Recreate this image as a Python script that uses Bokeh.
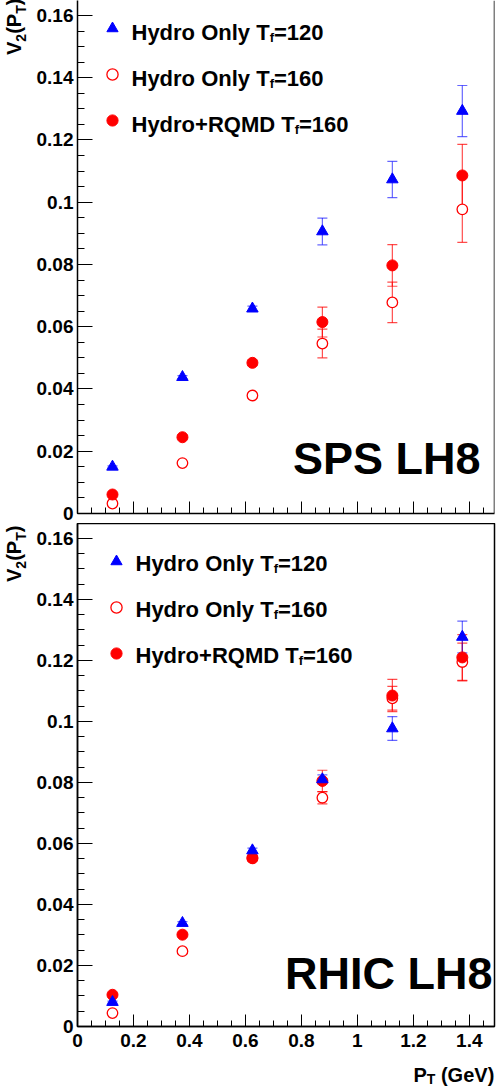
import numpy as np
from bokeh.plotting import figure
from bokeh.models import (ColumnDataSource, Whisker, TeeHead, Label, Legend, LegendItem,
                          SingleIntervalTicker, CustomJSTickFormatter, Range1d, Span, Div)
from bokeh.layouts import column, row
from bokeh.embed import file_html
from bokeh.resources import INLINE

# ---------------- data ----------------
pt = [0.125, 0.375, 0.625, 0.875, 1.125, 1.375]

sps_h120 = [0.0150, 0.0438, 0.0658, 0.0906, 0.1073, 0.1293]
sps_h120_err = [0.0003, 0.0005, 0.0008, 0.0043, 0.0058, 0.0082]
sps_h160 = [0.0032, 0.0162, 0.0379, 0.0546, 0.0678, 0.0977]
sps_h160_err = [0.0003, 0.0005, 0.0008, 0.0046, 0.0065, 0.0106]
sps_rqmd = [0.0061, 0.0245, 0.0484, 0.0615, 0.0797, 0.1086]
sps_rqmd_err = [0.0003, 0.0006, 0.0009, 0.0048, 0.0067, 0.0100]

rhic_h120 = [0.0080, 0.0339, 0.0577, 0.0810, 0.0977, 0.1277]
rhic_h120_err = [0.0003, 0.0005, 0.0008, 0.0015, 0.0039, 0.0052]
rhic_h160 = [0.0044, 0.0247, 0.0551, 0.0750, 0.1076, 0.1195]
rhic_h160_err = [0.0003, 0.0005, 0.0008, 0.0020, 0.0039, 0.0062]
rhic_rqmd = [0.0104, 0.0301, 0.0553, 0.0805, 0.1085, 0.1210]
rhic_rqmd_err = [0.0003, 0.0005, 0.0008, 0.0035, 0.0053, 0.0075]

panel_labels = ["SPS LH8", "RHIC LH8"]
legend_rows = [
    [("Hydro Only T", 0), ("f", 1), ("=120", 0)],
    [("Hydro Only T", 0), ("f", 1), ("=160", 0)],
    [("Hydro+RQMD T", 0), ("f", 1), ("=160", 0)],
]
ytitle = [("V", 0), ("2", 1), ("(P", 0), ("T", 1), (")", 0)]
xtitle = [("P", 0), ("T", 1), (" (GeV)", 0)]

# ---------------- layout (page pixels, page has no margin) ----------------
FONT = "Liberation Sans"
TW = 30                      # width of the y-title strip
PW = 468                     # width of each plot
BL, BR = 47, 4               # plot borders -> frame x from 77 to 494
FRAME_L = TW + BL
X_END = 1.49
SX = (PW - BL - BR) / X_END

H1, B1_BOT = 523, 10
F1H = H1 - B1_BOT            # frame 0..513
Y1_END = 0.1648
H2, B2_BOT = 537, 34
F2H = H2 - B2_BOT            # frame 523..1026
Y2_END = 0.1649
HX = 1086 - H1 - H2          # strip holding the x title
F1_BOTTOM = F1H
F2_TOP = H1
F2_BOTTOM = H1 + F2H
XT_TOP = H1 + H2

W = {' ': 278, '(': 333, ')': 333, '+': 584, '=': 584, '.': 278,
     '0': 556, '1': 556, '2': 556, '6': 556, '8': 556,
     'C': 722, 'D': 722, 'G': 778, 'H': 722, 'I': 278, 'L': 611, 'M': 833,
     'O': 778, 'P': 667, 'Q': 778, 'R': 722, 'S': 667, 'T': 611, 'V': 667,
     'd': 611, 'e': 556, 'f': 333, 'l': 278, 'n': 611, 'o': 611, 'r': 389,
     'v': 556, 'y': 556}


def tw(s, size):
    return sum(W.get(c, 556) for c in s) / 1000.0 * size


def xd(px):
    return (px - FRAME_L) / SX


def yd1(py):
    return (F1_BOTTOM - py) / (F1H / Y1_END)


def yd2(py):
    return (F2_BOTTOM - py) / (F2H / Y2_END)


def rich(p, fx, fy, x_px, y_px, pieces, size, sub_size, sub_shift):
    pos = x_px
    for text, is_sub in pieces:
        s = sub_size if is_sub else size
        sh = sub_shift if is_sub else 0
        stripped = text.lstrip(" ")
        pos += tw(text[:len(text) - len(stripped)], s)
        p.add_layout(Label(x=fx(pos), y=fy(y_px + sh), text=stripped, text_font=FONT,
                           text_font_style="bold", text_font_size=f"{s}px",
                           text_color="black", text_baseline="alphabetic",
                           text_align="left"))
        pos += tw(stripped, s)


def vertical_title(width, height, left, start, pieces, size, sub_size, sub_shift):
    parts = []
    for text, is_sub in pieces:
        if is_sub:
            parts.append(f'<span style="font-size:{sub_size}px;position:relative;top:{sub_shift}px;">{text}</span>')
        else:
            parts.append(text)
    html = (f'<div style="position:absolute;left:{left}px;top:{start}px;'
            f'transform-origin:0 0;transform:rotate(-90deg);'
            f"font-family:'{FONT}';font-weight:bold;font-size:{size}px;"
            f'line-height:1;white-space:nowrap;color:black;">' + "".join(parts) + '</div>')
    return Div(text=html, width=width, height=height, margin=0,
               styles={"overflow": "visible", "position": "relative"})


fmt = CustomJSTickFormatter(code="return parseFloat(tick.toFixed(3)).toString();")


def strip(w, h):
    f = figure(width=w, height=h, x_range=Range1d(0, w), y_range=Range1d(h, 0),
               x_axis_type=None, y_axis_type=None, output_backend="svg",
               toolbar_location=None, title=None, min_border=0)
    f.outline_line_color = None
    f.background_fill_color = "white"
    f.border_fill_color = "white"
    return f


def make_panel(height, bbot, yend, show_xlabels):
    p = figure(width=PW, height=height, x_range=Range1d(0, X_END),
               y_range=Range1d(0, yend), output_backend="svg",
               toolbar_location=None, title=None,
               min_border_left=BL, min_border_right=BR, min_border_top=0,
               min_border_bottom=bbot)
    p.xgrid.visible = False
    p.ygrid.visible = False
    p.background_fill_color = "white"
    p.border_fill_color = "white"
    p.xaxis.ticker = SingleIntervalTicker(interval=0.2, num_minor_ticks=4)
    p.yaxis.ticker = SingleIntervalTicker(interval=0.02, num_minor_ticks=4)
    for ax in (p.xaxis, p.yaxis):
        ax.axis_line_color = "black"
        ax.axis_line_width = 1.5
        ax.major_tick_line_color = "black"
        ax.minor_tick_line_color = "black"
        ax.major_tick_out = 0
        ax.minor_tick_out = 0
        ax.formatter = fmt
        ax.major_label_text_font = FONT
        ax.major_label_text_font_style = "bold"
        ax.major_label_text_color = "black"
        ax.major_label_text_font_size = "19px"
    p.yaxis.major_tick_in = 15
    p.yaxis.minor_tick_in = 7
    p.yaxis.major_label_standoff = 4
    p.xaxis.major_tick_in = 12
    p.xaxis.minor_tick_in = 6
    if show_xlabels:
        p.xaxis.major_label_standoff = 7
    else:
        p.xaxis.major_label_standoff = 0
        p.xaxis.major_label_text_font_size = "1px"
        p.xaxis.major_label_text_alpha = 0
    p.outline_line_color = "black"
    p.outline_line_width = 1.5
    return p


def add_series(p, h120, e120, h160, e160, rq, erq):
    def whisk(vals, errs, color, alpha):
        v = np.array(vals)
        e = np.array(errs)
        src = ColumnDataSource(dict(x=pt, lo=v - e, hi=v + e))
        p.add_layout(Whisker(source=src, base="x", lower="lo", upper="hi",
                             line_color=color, line_alpha=alpha, line_width=1.2,
                             upper_head=TeeHead(size=10, line_color=color, line_alpha=alpha, line_width=1.2),
                             lower_head=TeeHead(size=10, line_color=color, line_alpha=alpha, line_width=1.2)))
    whisk(h160, e160, "#ff0000", 0.7)
    whisk(rq, erq, "#ff0000", 0.7)
    whisk(h120, e120, "#0000ff", 0.6)
    r_open = p.scatter(pt, h160, marker="circle", size=10.5, fill_color="white",
                       line_color="#ff0000", line_width=1.3)
    r_fill = p.scatter(pt, rq, marker="circle", size=11, fill_color="#ff0000",
                       line_color="#ff0000")
    r_tri = p.scatter(pt, h120, marker="triangle", size=11.5, fill_color="#0000ff",
                      line_color="#0000ff")
    return r_tri, r_open, r_fill


def add_legend(p, rends, loc):
    items = [LegendItem(label=" ", renderers=[r]) for r in rends]
    lg = Legend(items=items, location=loc, orientation="vertical", padding=0,
                margin=0, spacing=6, glyph_width=28, glyph_height=40,
                label_height=40, label_width=1, label_standoff=0,
                label_text_font_size="1px", border_line_color=None,
                background_fill_alpha=0)
    p.add_layout(lg)


# ---------------- top panel (SPS) ----------------
p1 = make_panel(H1, B1_BOT, Y1_END, False)
p1.outline_line_color = None
p1.add_layout(Span(location=X_END, dimension="height", line_color="black", line_width=1.5))
r1 = add_series(p1, sps_h120, sps_h120_err, sps_h160, sps_h160_err, sps_rqmd, sps_rqmd_err)
add_legend(p1, r1, (98 - FRAME_L, F1_BOTTOM - 8 - 132))
for i, rw in enumerate(legend_rows):
    rich(p1, xd, yd1, 131, 32 + 46 * i, rw, 22, 13, 5)
p1.add_layout(Label(x=xd(480), y=yd1(458), text=panel_labels[0], text_font=FONT,
                    text_font_style="bold", text_font_size="45px", text_color="black",
                    text_align="right", text_baseline="alphabetic"))
t1 = vertical_title(TW, H1, 4, 55, ytitle, 20, 14, 5)

# ---------------- bottom panel (RHIC) ----------------
p2 = make_panel(H2, B2_BOT, Y2_END, True)
r2 = add_series(p2, rhic_h120, rhic_h120_err, rhic_h160, rhic_h160_err, rhic_rqmd, rhic_rqmd_err)
add_legend(p2, r2, (102 - FRAME_L, F2_BOTTOM - 541 - 132))
for i, rw in enumerate(legend_rows):
    rich(p2, xd, yd2, 135, 563 + 46 * i, rw, 22, 13, 5)
p2.add_layout(Label(x=xd(492), y=yd2(973), text=panel_labels[1], text_font=FONT,
                    text_font_style="bold", text_font_size="45px", text_color="black",
                    text_align="right", text_baseline="alphabetic"))
t2 = vertical_title(TW, H2, 4, 582 - F2_TOP, ytitle, 20, 14, 5)

# ---------------- x title strip ----------------
xt = strip(TW + PW, HX)
rich(xt, lambda v: v, lambda v: v - XT_TOP, 413, 1074, xtitle, 20, 14, 4)

layout = column(row(t1, p1, spacing=0), row(t2, p2, spacing=0), xt, spacing=0)
open("out.html", "w").write(file_html(layout, INLINE))
